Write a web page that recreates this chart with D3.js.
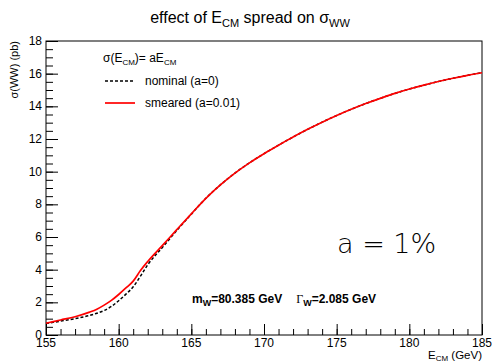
<!DOCTYPE html>
<html>
<head>
<meta charset="utf-8">
<script src="https://cdn.jsdelivr.net/npm/d3@7"></script>
<style>
  body { margin: 0; background: #fff; }
  text { font-family: "Liberation Sans", Arial, sans-serif; }
</style>
</head>
<body>
<div id="chart"></div>
<script>
// energies in GeV, cross sections in pb
const energies = [155, 156, 157, 158, 158.5, 159, 159.5, 160, 160.5, 161, 161.5, 162, 163, 164, 165,
  166, 167, 168, 169, 170, 171, 172, 173, 174, 175, 176, 177, 178, 179, 180, 181, 182, 183, 184, 185];
const nominal = [0.70, 0.85, 1.0, 1.2, 1.33, 1.5, 1.75, 2.1, 2.5, 2.95, 3.6, 4.3, 5.35, 6.4, 7.4,
  8.37, 9.19, 9.91, 10.54, 11.1, 11.62, 12.12, 12.59, 13.03, 13.44, 13.82, 14.17, 14.49, 14.79, 15.06, 15.3, 15.52, 15.72, 15.9, 16.06];
const smeared = [0.72, 0.92, 1.12, 1.4, 1.58, 1.83, 2.12, 2.48, 2.88, 3.3, 3.95, 4.5, 5.47, 6.45, 7.42,
  8.37, 9.19, 9.91, 10.54, 11.1, 11.62, 12.12, 12.59, 13.03, 13.44, 13.82, 14.17, 14.49, 14.79, 15.06, 15.3, 15.52, 15.72, 15.9, 16.06];
const xTicks = [155, 160, 165, 170, 175, 180, 185];
const yTicks = [0, 2, 4, 6, 8, 10, 12, 14, 16, 18];

const W = 492, H = 363;
const margin = { top: 41, right: 10, bottom: 28, left: 46 };
const width = W - margin.left - margin.right,
      height = H - margin.top - margin.bottom;

const svg = d3.select("#chart").append("svg").attr("width", W).attr("height", H);
const g = svg.append("g").attr("transform", `translate(${margin.left},${margin.top})`);

const x = d3.scaleLinear().domain([155, 185]).range([0, width]),
      y = d3.scaleLinear().domain([0, 18]).range([height, 0]);

// minor ticks
g.append("g").attr("transform", `translate(0,${height})`)
  .call(d3.axisTop(x).tickValues(d3.range(155, 186, 1)).tickSize(6).tickFormat(""))
  .call(a => a.select(".domain").remove());
g.append("g")
  .call(d3.axisRight(y).tickValues(d3.range(0, 18.01, 0.5)).tickSize(7).tickFormat(""))
  .call(a => a.select(".domain").remove());

// major ticks
g.append("g").attr("transform", `translate(0,${height})`)
  .call(d3.axisTop(x).tickValues(xTicks).tickSize(11).tickFormat(""))
  .call(a => a.select(".domain").remove());
g.append("g").selectAll("text").data(xTicks).join("text")
  .attr("x", d => x(d)).attr("y", height + 12).attr("text-anchor", "middle")
  .attr("font-size", 12).text(d => d);

g.append("g").call(d3.axisRight(y).tickValues(yTicks).tickSize(12).tickFormat(""))
  .call(a => a.select(".domain").remove());
g.append("g").selectAll("text").data(yTicks).join("text")
  .attr("x", -4).attr("y", d => y(d) + 4).attr("text-anchor", "end")
  .attr("font-size", 12).text(d => d);

g.selectAll(".tick line").attr("stroke", "#000");

// frame
g.append("rect").attr("width", width).attr("height", height)
  .attr("fill", "none").attr("stroke", "#000").attr("stroke-width", 1);

const line = d3.line().x(d => x(d[0])).y(d => y(d[1])).curve(d3.curveMonotoneX);
g.append("path").datum(energies.map((e, i) => [e, nominal[i]]))
  .attr("fill", "none").attr("stroke", "#000").attr("stroke-width", 1.5)
  .attr("stroke-dasharray", "3,2").attr("d", line);
g.append("path").datum(energies.map((e, i) => [e, smeared[i]]))
  .attr("fill", "none").attr("stroke", "#f00").attr("stroke-width", 1.7).attr("d", line);

// title
const t = svg.append("text").attr("x", 250).attr("y", 23).attr("text-anchor", "middle").attr("font-size", 16);
t.append("tspan").text("effect of E");
t.append("tspan").attr("font-size", 11).attr("dy", 4).text("CM");
t.append("tspan").attr("dy", -4).text(" spread on σ");
t.append("tspan").attr("font-size", 11).attr("dy", 4).text("WW");

// axis titles
const xt = svg.append("text").attr("x", 482).attr("y", 359).attr("text-anchor", "end").attr("font-size", 11.5);
xt.append("tspan").text("E");
xt.append("tspan").attr("font-size", 8).attr("dy", 2).text("CM");
xt.append("tspan").attr("dy", -2).text(" (GeV)");

svg.append("text").attr("transform", "translate(18,41) rotate(-90)").attr("text-anchor", "end")
  .attr("font-size", 11).text("σ(WW) (pb)");

// legend
const lg = svg.append("g");
const lh = lg.append("text").attr("x", 103).attr("y", 62).attr("font-size", 12);
lh.append("tspan").text("σ(E");
lh.append("tspan").attr("font-size", 8).attr("dy", 3).text("CM");
lh.append("tspan").attr("dy", -3).text(")= aE");
lh.append("tspan").attr("font-size", 8).attr("dy", 3).text("CM");
lg.append("line").attr("x1", 105).attr("x2", 133).attr("y1", 81).attr("y2", 81)
  .attr("stroke", "#000").attr("stroke-width", 1.5).attr("stroke-dasharray", "3,2");
lg.append("text").attr("x", 145).attr("y", 85).attr("font-size", 12).text("nominal (a=0)");
lg.append("line").attr("x1", 105).attr("x2", 135).attr("y1", 103).attr("y2", 103)
  .attr("stroke", "#f00").attr("stroke-width", 1.7);
lg.append("text").attr("x", 145).attr("y", 107).attr("font-size", 12).text("smeared (a=0.01)");

// annotations
svg.append("text").attr("x", 337).attr("y", 253).attr("font-size", 27)
  .style("font-family", "'DejaVu Sans', sans-serif").style("font-weight", 300).text("a = 1%");

const an = svg.append("text").attr("x", 192).attr("y", 303).attr("font-size", 12).attr("font-weight", "bold");
an.append("tspan").text("m");
an.append("tspan").attr("font-size", 9).attr("dy", 3).text("W");
an.append("tspan").attr("dy", -3).text("=80.385 GeV");
an.append("tspan").attr("dx", 14).attr("font-weight", "normal")
  .style("font-family", "'Liberation Serif', serif").text("Γ");
an.append("tspan").attr("font-size", 9).attr("dy", 3).text("W");
an.append("tspan").attr("dy", -3).text("=2.085 GeV");
</script>
</body>
</html>
